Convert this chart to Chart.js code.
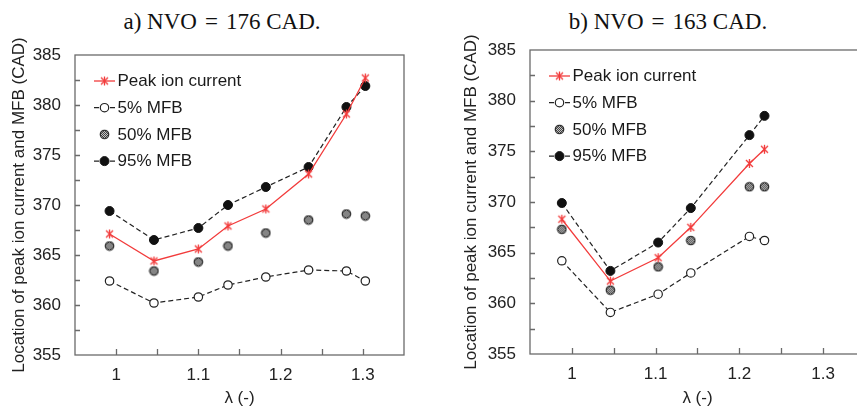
<!DOCTYPE html>
<html>
<head>
<meta charset="utf-8">
<script src="https://cdn.jsdelivr.net/npm/chart.js@4.4.1/dist/chart.umd.min.js"></script>
<style>
  body { margin: 0; width: 857px; height: 407px; overflow: hidden; position: relative; background: #fff; }
  .title { position: absolute; top: 8px; width: 400px; text-align: center; font: 23px "Liberation Serif", "Times New Roman", serif; line-height: 28px; color: #111; }
  .title .eq { margin: 0 8px; }
  canvas { position: absolute; top: 0; }
</style>
</head>
<body>
<div class="title" style="left:22px">a) NVO<span class="eq">=</span>176 CAD.</div>
<div class="title" style="left:468px">b) NVO<span class="eq">=</span>163 CAD.</div>
<canvas id="chart-a" width="428" height="407" style="left:0;width:428px;height:407px"></canvas>
<canvas id="chart-b" width="460" height="407" style="left:428px;width:460px;height:407px"></canvas>
<script>
// a) NVO = 176 CAD
const lambdaA = [0.992, 1.046, 1.100, 1.136, 1.182, 1.234, 1.280, 1.303];
const peakA   = [367.1, 364.4, 365.6, 367.9, 369.6, 373.1, 379.1, 382.7];
const mfb5A   = [362.4, 360.2, 360.8, 362.0, 362.8, 363.5, 363.4, 362.4];
const mfb50A  = [365.9, 363.4, 364.3, 365.9, 367.2, 368.5, 369.1, 368.9];
const mfb95A  = [369.4, 366.5, 367.7, 370.0, 371.8, 373.8, 379.8, 381.9];

// b) NVO = 163 CAD
const lambdaB = [0.988, 1.046, 1.103, 1.142, 1.212, 1.230];
const peakB   = [368.3, 362.2, 364.5, 367.5, 373.8, 375.2];
const mfb5B   = [364.2, 359.1, 360.9, 363.0, 366.6, 366.2];
const mfb50B  = [367.3, 361.3, 363.6, 366.2, 371.5, 371.5];
const mfb95B  = [369.9, 363.2, 366.0, 369.4, 376.6, 378.5];

const seriesLabels = ['Peak ion current', '5% MFB', '50% MFB', '95% MFB'];
const xTicks = [0.95, 1.0, 1.05, 1.1, 1.15, 1.2, 1.25, 1.3, 1.35];
const xLabels = ['1', '1.1', '1.2', '1.3'];
const yTicks = [355, 357.5, 360, 362.5, 365, 367.5, 370, 372.5, 375, 377.5, 380, 382.5, 385];
const yLabels = ['355', '360', '365', '370', '375', '380', '385'];

const SANS = 'Arial, "Liberation Sans", sans-serif';
const RED = '#f23b3b';
const AXIS = '#6a6a6a';
Chart.defaults.font.family = SANS;
Chart.defaults.color = '#222';

function makeStar() {
    const c = document.createElement('canvas');
    c.width = 11; c.height = 11;
    const g = c.getContext('2d');
    g.strokeStyle = RED;
    g.lineWidth = 1.3;
    g.beginPath();
    g.moveTo(2, 2); g.lineTo(9, 9);
    g.moveTo(9, 2); g.lineTo(2, 9);
    g.moveTo(5.5, 1); g.lineTo(5.5, 10);
    g.stroke();
    return c;
}

function makeHatched() {
    const p = document.createElement('canvas');
    p.width = 2; p.height = 2;
    const pg = p.getContext('2d');
    pg.fillStyle = '#cfcfcf'; pg.fillRect(0, 0, 2, 2);
    pg.fillStyle = '#3c3c3c'; pg.fillRect(0, 0, 1, 1); pg.fillRect(1, 1, 1, 1);
    const c = document.createElement('canvas');
    c.width = 11; c.height = 11;
    const g = c.getContext('2d');
    g.fillStyle = g.createPattern(p, 'repeat');
    g.strokeStyle = '#2e2e2e';
    g.lineWidth = 1.3;
    g.beginPath();
    g.arc(5.5, 5.5, 4.2, 0, Math.PI * 2);
    g.fill();
    g.stroke();
    return c;
}

const starImg = makeStar();
const hatchImg = makeHatched();

function pts(xs, ys) {
    return xs.map((x, i) => ({x: x, y: ys[i]}));
}

function buildDatasets(xs, peak, m5, m50, m95) {
    return [
        {label: seriesLabels[0], data: pts(xs, peak), showLine: true, borderColor: RED, borderWidth: 1.3,
            pointStyle: starImg, pointRadius: 5, pointBackgroundColor: RED, pointBorderColor: RED},
        {label: seriesLabels[1], data: pts(xs, m5), showLine: true, borderColor: '#222', borderWidth: 1.2, borderDash: [5, 3],
            pointStyle: 'circle', pointRadius: 4.2, pointBorderWidth: 1.2, pointBackgroundColor: '#fff', pointBorderColor: '#222'},
        {label: seriesLabels[2], data: pts(xs, m50), showLine: false,
            pointStyle: hatchImg, pointRadius: 5, pointBackgroundColor: '#888', pointBorderColor: '#2e2e2e'},
        {label: seriesLabels[3], data: pts(xs, m95), showLine: true, borderColor: '#222', borderWidth: 1.2, borderDash: [5, 3],
            pointStyle: 'circle', pointRadius: 4.5, pointBorderWidth: 1, pointBackgroundColor: '#111', pointBorderColor: '#111'}
    ];
}

// frame + inward tick marks + legend inside the plot area
const framePlugin = {
    id: 'frame',
    beforeDatasetsDraw(chart) {
        const {ctx, chartArea, scales} = chart;
        ctx.save();
        ctx.strokeStyle = AXIS;
        ctx.lineWidth = 1.3;
        ctx.strokeRect(chartArea.left, chartArea.top, chartArea.right - chartArea.left, chartArea.bottom - chartArea.top);
        ctx.beginPath();
        scales.y.ticks.forEach(t => {
            const py = Math.round(scales.y.getPixelForValue(t.value)) + 0.5;
            if (py > chartArea.top + 1 && py < chartArea.bottom - 1) {
                ctx.moveTo(chartArea.left, py);
                ctx.lineTo(chartArea.left + 5, py);
            }
        });
        scales.x.ticks.forEach(t => {
            const px = Math.round(scales.x.getPixelForValue(t.value)) + 0.5;
            if (px > chartArea.left + 1 && px < chartArea.right - 1) {
                ctx.moveTo(px, chartArea.bottom);
                ctx.lineTo(px, chartArea.bottom - 6);
            }
        });
        ctx.stroke();
        ctx.restore();
    },
    afterDatasetsDraw(chart) {
        const {ctx, chartArea} = chart;
        ctx.save();
        ctx.font = '17px ' + SANS;
        ctx.textBaseline = 'middle';
        chart.data.datasets.forEach((ds, i) => {
            const y = chartArea.top + 26 + i * 26.7;
            const x0 = chartArea.left + 19;
            const x1 = chartArea.left + 40;
            if (ds.showLine) {
                ctx.strokeStyle = ds.borderColor;
                ctx.lineWidth = ds.borderWidth;
                ctx.setLineDash(ds.borderDash || []);
                ctx.beginPath();
                ctx.moveTo(x0, y);
                ctx.lineTo(x1, y);
                ctx.stroke();
                ctx.setLineDash([]);
            }
            ctx.fillStyle = ds.pointBackgroundColor;
            ctx.strokeStyle = ds.pointBorderColor;
            ctx.lineWidth = ds.pointBorderWidth || 1;
            Chart.helpers.drawPoint(ctx, {pointStyle: ds.pointStyle, radius: ds.pointRadius,
                borderWidth: ds.pointBorderWidth || 1, rotation: 0}, (x0 + x1) / 2, y);
            ctx.fillStyle = '#1a1a1a';
            ctx.fillText(ds.label, chartArea.left + 42.5, y + 0.5);
        });
        ctx.restore();
    }
};

function buildOptions(yWidth, xHeight, padTop, padRight, yTitlePad) {
    return {
        responsive: false,
        animation: false,
        layout: {padding: {top: padTop, right: padRight, left: 0, bottom: 0}},
        plugins: {legend: {display: false}, tooltip: {enabled: false}},
        scales: {
            x: {
                type: 'linear', min: 0.95, max: 1.35,
                grid: {display: false, drawTicks: false}, border: {display: false},
                afterBuildTicks: s => { s.ticks = xTicks.map(v => ({value: v})); },
                afterFit: s => { s.height = xHeight; },
                ticks: {
                    padding: 10, maxRotation: 0, autoSkip: false, color: '#222', font: {size: 17},
                    callback: v => {
                        const txt = String(Math.round(v * 100) / 100);
                        return xLabels.includes(txt) ? txt : '';
                    }
                },
                title: {display: true, text: 'λ (-)', color: '#222', font: {size: 17, lineHeight: 1},
                    padding: {top: 0, bottom: 0.5}}
            },
            y: {
                type: 'linear', min: 355, max: 385,
                grid: {display: false, drawTicks: false}, border: {display: false},
                afterBuildTicks: s => { s.ticks = yTicks.map(v => ({value: v})); },
                afterFit: s => { s.width = yWidth; },
                ticks: {
                    padding: 14, autoSkip: false, color: '#222', font: {size: 17},
                    callback: v => {
                        const txt = String(v);
                        return yLabels.includes(txt) ? txt : '';
                    }
                },
                title: {display: true, text: 'Location of peak ion current and MFB (CAD)', color: '#222',
                    font: {size: 17, lineHeight: 1}, padding: {top: yTitlePad, bottom: 0}}
            }
        }
    };
}

new Chart(document.getElementById('chart-a'), {
    type: 'scatter',
    data: {datasets: buildDatasets(lambdaA, peakA, mfb5A, mfb50A, mfb95A)},
    options: buildOptions(75, 52, 55, 24, 10.5),
    plugins: [framePlugin]
});

new Chart(document.getElementById('chart-b'), {
    type: 'scatter',
    data: {datasets: buildDatasets(lambdaB, peakB, mfb5B, mfb50B, mfb95B)},
    options: buildOptions(102, 53, 50, 23, 34.8),
    plugins: [framePlugin]
});
</script>
</body>
</html>
